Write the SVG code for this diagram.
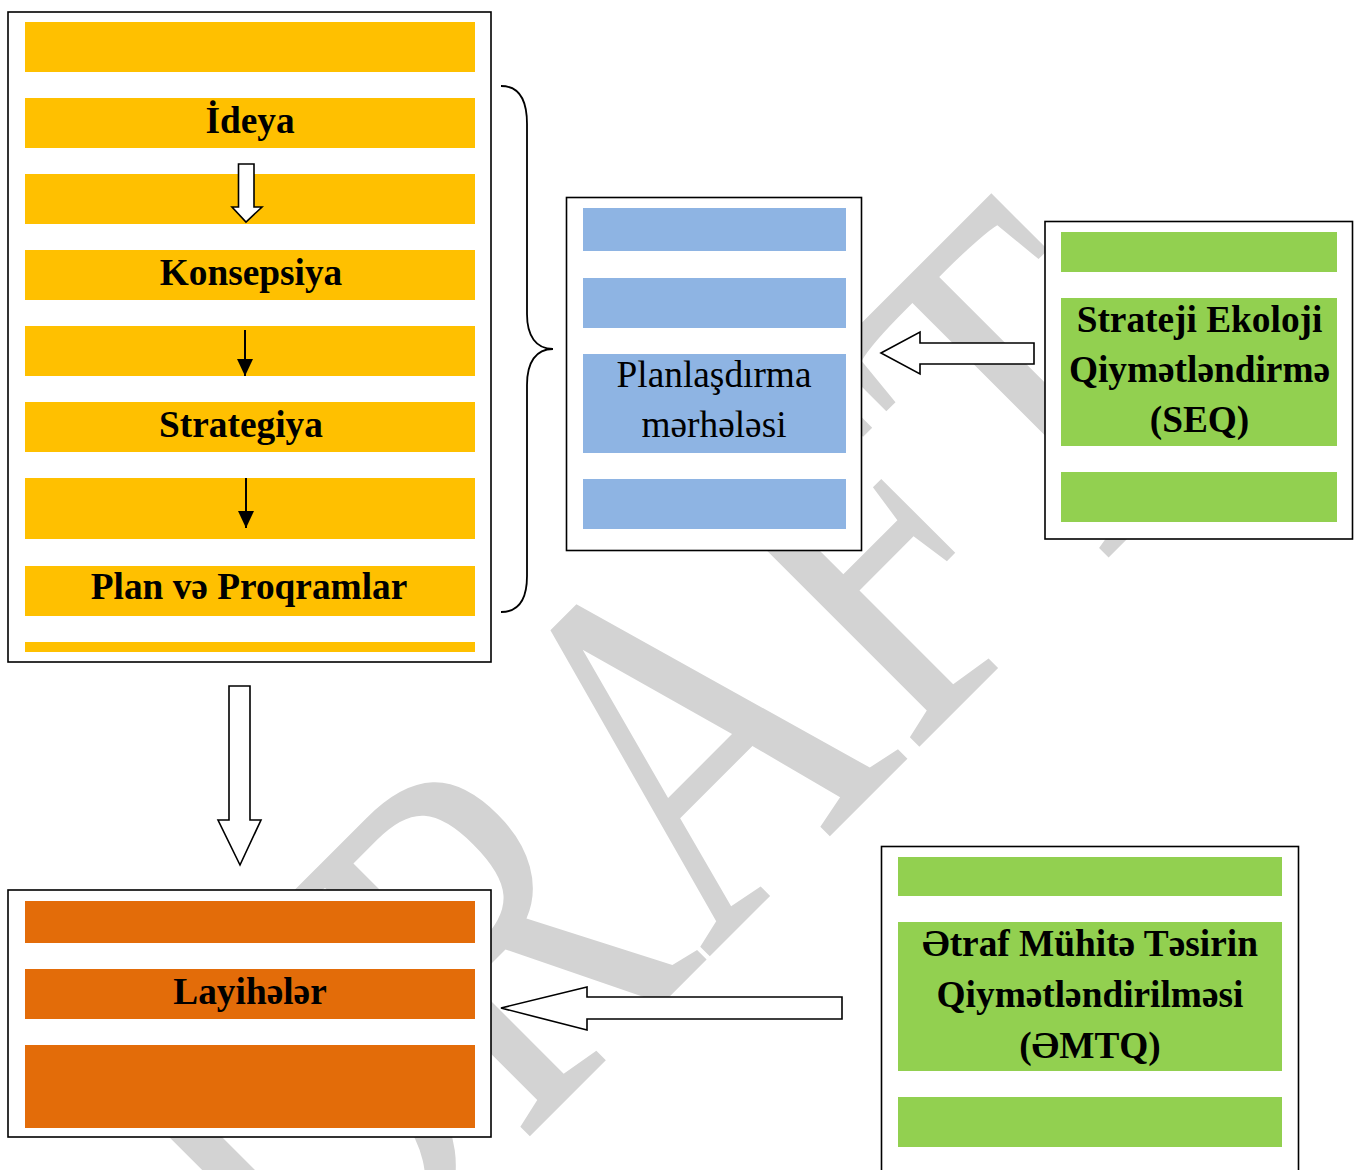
<svg xmlns="http://www.w3.org/2000/svg" width="1362" height="1170" viewBox="0 0 1362 1170">
<style>
.frame{fill:#fff;stroke:#000;stroke-width:1.6}
.y{fill:#FFC000}
.b{fill:#8EB4E3}
.g{fill:#92D050}
.o{fill:#E36C09}
.t{font-family:"Liberation Serif","Times New Roman","DejaVu Serif",serif;font-size:37.33px;fill:#000;text-anchor:middle}
.bd{font-weight:bold}
.blk{fill:#fff;stroke:#000;stroke-width:1.6;stroke-linejoin:miter}
.thin{stroke:#000;stroke-width:2;fill:none}
.brace{fill:none;stroke:#000;stroke-width:1.8}
.wm{font-family:"Liberation Serif","Times New Roman",serif;font-size:520px;fill:#d3d3d3}
</style>
<defs>
<marker id="ah" markerUnits="userSpaceOnUse" markerWidth="18" markerHeight="18" viewBox="0 0 18 18" refX="17" refY="9" orient="auto">
<path d="M0,1 L17,9 L0,17 Z" fill="#000"/>
</marker>
</defs>
<rect width="1362" height="1170" fill="#fff"/>
<text class="wm" transform="translate(317.5,1348.6) rotate(-45)" textLength="1300" lengthAdjust="spacingAndGlyphs">DRAFT</text>

<g id="stages">
<rect class="frame" x="8" y="12" width="483" height="650"/>
<rect class="y" x="25" y="22" width="450" height="50"/>
<rect class="y" x="25" y="98" width="450" height="50"/>
<rect class="y" x="25" y="174" width="450" height="50"/>
<rect class="y" x="25" y="250" width="450" height="50"/>
<rect class="y" x="25" y="326" width="450" height="50"/>
<rect class="y" x="25" y="402" width="450" height="50"/>
<rect class="y" x="25" y="478" width="450" height="61"/>
<rect class="y" x="25" y="566" width="450" height="50"/>
<rect class="y" x="25" y="642" width="450" height="10"/>
<text class="t bd" x="250" y="133">İdeya</text>
<text class="t bd" x="251" y="285">Konsepsiya</text>
<text class="t bd" x="241" y="437">Strategiya</text>
<text class="t bd" x="249" y="599">Plan və Proqramlar</text>
<polygon class="blk" points="238.5,164 254,164 254,207 262,207 246,222 232,207 238.5,207"/>
<line class="thin" x1="245" y1="330" x2="245" y2="376" marker-end="url(#ah)"/>
<line class="thin" x1="246" y1="478" x2="246" y2="528" marker-end="url(#ah)"/>
</g>

<g id="planning">
<rect class="frame" x="566.5" y="197.5" width="295" height="353"/>
<rect class="b" x="583" y="208" width="263" height="43"/>
<rect class="b" x="583" y="278" width="263" height="50"/>
<rect class="b" x="583" y="354" width="263" height="99"/>
<rect class="b" x="583" y="479" width="263" height="50"/>
<text class="t" x="714" y="387">Planlaşdırma</text>
<text class="t" x="714" y="437">mərhələsi</text>
</g>

<g id="seq">
<rect class="frame" x="1045" y="221.5" width="307.5" height="317.5"/>
<rect class="g" x="1061" y="232" width="276" height="40"/>
<rect class="g" x="1061" y="298" width="276" height="148"/>
<rect class="g" x="1061" y="472" width="276" height="50"/>
<text class="t bd" x="1199.5" y="332">Strateji Ekoloji</text>
<text class="t bd" x="1199.5" y="382">Qiymətləndirmə</text>
<text class="t bd" x="1199.5" y="432">(SEQ)</text>
</g>

<g id="projects">
<rect class="frame" x="8" y="890" width="483" height="247"/>
<rect class="o" x="25" y="901" width="450" height="42"/>
<rect class="o" x="25" y="969" width="450" height="50"/>
<rect class="o" x="25" y="1045" width="450" height="83"/>
<text class="t bd" x="250" y="1004">Layihələr</text>
</g>

<g id="emtq">
<rect class="frame" x="881.5" y="846.5" width="417" height="340"/>
<rect class="g" x="898" y="857" width="384" height="39"/>
<rect class="g" x="898" y="922" width="384" height="149"/>
<rect class="g" x="898" y="1097" width="384" height="50"/>
<text class="t bd" x="1090" y="956">Ətraf Mühitə Təsirin</text>
<text class="t bd" x="1090" y="1007">Qiymətləndirilməsi</text>
<text class="t bd" x="1090" y="1058">(ƏMTQ)</text>
</g>

<g id="connectors">
<path class="brace" d="M501,86 C519,86 527,100 527,124 L527,314 C527,336 536,349 553,349 C536,349 527,362 527,385 L527,576 C527,599 519,612 501,612"/>
<polygon class="blk" points="881,353 920,332 920,343 1034,343 1034,364 920,364 920,374"/>
<polygon class="blk" points="229,686 250,686 250,820 261,820 240,865 218,820 229,820"/>
<polygon class="blk" points="501,1008 587,987 587,997 842,997 842,1019 587,1019 587,1030"/>
</g>
</svg>
